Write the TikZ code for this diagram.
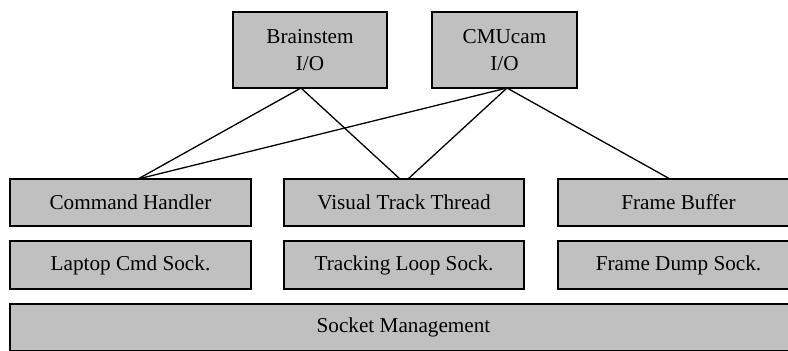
\documentclass[tikz,border=0pt]{standalone}
\usepackage{fontspec}
\setmainfont{Liberation Serif}
\usetikzlibrary{calc}
\begin{document}
\begin{tikzpicture}[x=0.5pt,y=-0.5pt,
  box/.style={draw=black, fill={rgb,255:red,192;green,192;blue,192}, line width=0.7pt,
    inner sep=0pt, outer sep=0pt, align=center,
    font=\fontsize{10.6}{13.5}\selectfont},
  link/.style={draw=black, line width=0.65pt}]
\path[use as bounding box] (0,0) rectangle (788,350);
\clip (0,0) rectangle (788,350);
\node[box, minimum width=77pt, minimum height=38pt] (brain) at (310,50) {Brainstem\\I/O};
\node[box, minimum width=72.5pt, minimum height=38pt] (cmu) at (504.5,50) {CMUcam\\I/O};
\node[box, minimum width=120.5pt, minimum height=23.5pt] (cmd) at (130.5,202.5) {Command Handler};
\node[box, minimum width=120pt, minimum height=23.5pt] (vis) at (404,202.5) {Visual Track Thread};
\node[box, minimum width=120.5pt, minimum height=23.5pt] (fb) at (678.5,202.5) {Frame Buffer};
\node[box, minimum width=120.5pt, minimum height=24pt] (lap) at (130.5,265) {Laptop Cmd Sock.};
\node[box, minimum width=120pt, minimum height=24pt] (trk) at (404,265) {Tracking Loop Sock.};
\node[box, minimum width=120.5pt, minimum height=24pt] (fds) at (678.5,265) {Frame Dump Sock.};
\node[box, minimum width=393.5pt, minimum height=23.5pt] (sock) at (403.5,327.5) {Socket Management};
\draw[link] ($(brain.south)+(-9,0)$) -- ($(cmd.north)+(7.5,0)$);
\draw[link] ($(brain.south)+(-9,0)$) -- ($(vis.north)+(-4,0)$);
\draw[link] ($(cmu.south)+(2.5,0)$) -- ($(cmd.north)+(7.5,0)$);
\draw[link] ($(cmu.south)+(2.5,0)$) -- ($(vis.north)+(4,0)$);
\draw[link] ($(cmu.south)+(2.5,0)$) -- ($(fb.north)+(-8.5,0)$);
\end{tikzpicture}
\end{document}
